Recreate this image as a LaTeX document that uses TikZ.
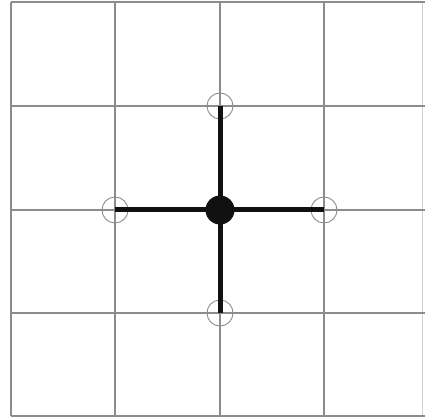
\documentclass[tikz,border=0pt]{standalone}
\definecolor{GridGrey}{HTML}{8C8C8C}
\definecolor{EdgeGrey}{HTML}{D0D0D0}
\definecolor{Ink}{HTML}{111111}
\tikzset{hole/.style={circle,draw=GridGrey,line width=.9pt,minimum size=26pt,inner sep=0pt},
  dot/.style={circle,fill=Ink,minimum size=29pt,inner sep=0pt},
  arm/.style={Ink,line width=5pt}}
\begin{document}
\begin{tikzpicture}[x=1pt,y=-1pt]
\useasboundingbox[fill=white] (0,0) rectangle (425,419);
\foreach \x in {11,115,220,324}{\draw[GridGrey,line width=1.2pt] (\x,2)--(\x,416);}
\draw[EdgeGrey,line width=1pt] (422,2)--(422,416);
\foreach \y in {2,106,210,313,416}{\draw[GridGrey,line width=1.2pt] (11,\y)--(425,\y);}
\node[hole] (N) at (220,106){}; \node[hole] (S) at (220,313){};
\node[hole] (W) at (115,210){}; \node[hole] (E) at (324,210){};
\node[dot] (C) at (220,210){};
\foreach \p in {N,S,W,E}{\draw[arm] (C.center)--(\p.center);}
\end{tikzpicture}
\end{document}
